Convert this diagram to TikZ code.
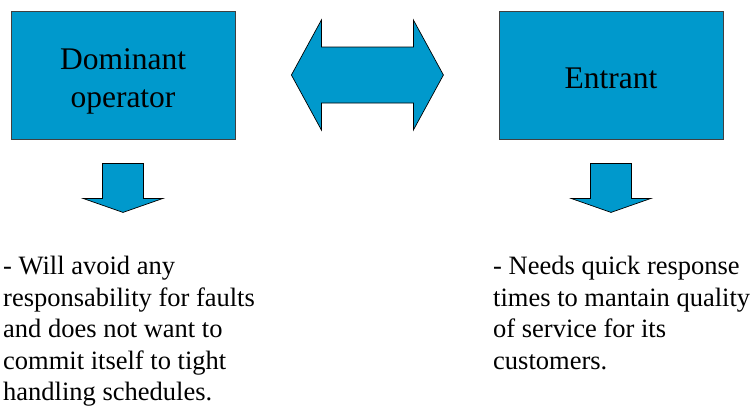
\documentclass[tikz,border=0pt]{standalone}
\usepackage{fontspec}
\setmainfont{Liberation Serif}
\usepackage{tikz}

\definecolor{boxblue}{RGB}{0,153,204}

\tikzset{
	player/.style={draw=black!75, line width=.8pt, fill=boxblue, minimum width=224pt, minimum height=128pt, align=center, font=\fontsize{31.5}{38}\selectfont},
	bigarrow/.style={draw=black, line width=.7pt, fill=boxblue, line join=miter},
	remark/.style={anchor=north west, inner sep=0pt, align=left, font=\fontsize{26.5}{31.5}\selectfont}
}

\begin{document}
\begin{tikzpicture}[x=1pt, y=-1pt]
	\useasboundingbox (0,0) rectangle (755,408);

	\node[player] (dom) at (123,75) {\rule{0pt}{34pt}Dominant\\operator};
	\node[player] (ent) at (611,75) {\rule{0pt}{27pt}Entrant};

	\draw[bigarrow] ([xshift=56pt]dom.east) -- ++(30,-55) -- ++(0,27) -- ++(92,0) -- ++(0,-27) -- ++(30,55) -- ++(-30,55) -- ++(0,-27) -- ++(-92,0) -- ++(0,27) -- cycle;

	\foreach \b in {dom,ent}
		\draw[bigarrow] ([xshift=-20.5pt,yshift=-24pt]\b.south) -- ++(41,0) -- ++(0,35) -- ++(19.5,0) -- ++(-40,14) -- ++(-40,-14) -- ++(19.5,0) -- cycle;

	\node[remark] (domtxt) at (3,256) {- Will avoid any\\responsability for faults\\and does not want to\\commit itself to tight\\handling schedules.};
	\node[remark] (enttxt) at (493,256) {- Needs quick response\\times to mantain quality\\of service for its\\customers.};
\end{tikzpicture}
\end{document}
